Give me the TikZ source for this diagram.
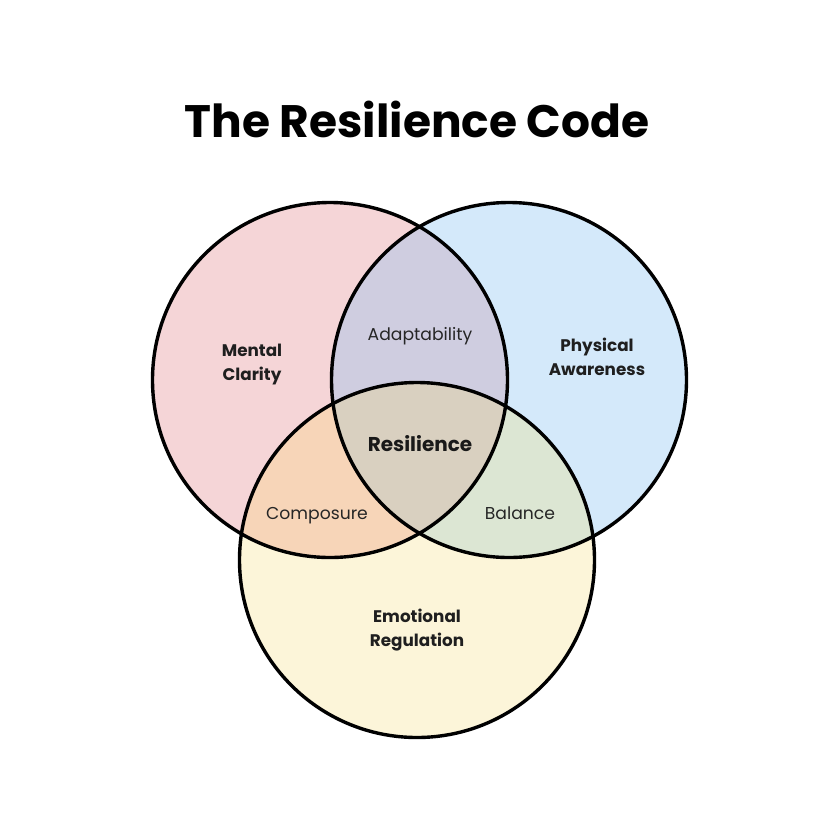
\documentclass[tikz,border=0pt]{standalone}
\usepackage{fontspec}
\setmainfont{Poppins}
\definecolor{cpink}{HTML}{F5D5D7}
\definecolor{cblue}{HTML}{D4E9FA}
\definecolor{cyellow}{HTML}{FCF5D9}
\definecolor{clav}{HTML}{CFCDE0}
\definecolor{cpeach}{HTML}{F7D5B8}
\definecolor{cgreen}{HTML}{DCE6D3}
\definecolor{ccenter}{HTML}{D9D0C0}
\begin{document}
\begin{tikzpicture}[x=1pt,y=-1pt,
  ring/.style={draw=black,line width=3.4pt},
  maintext/.style={font=\fontsize{16.8}{24}\selectfont\bfseries,align=center,text=black!88},
  subtext/.style={font=\fontsize{17.2}{20}\selectfont,text=black!85,anchor=base},
  centertext/.style={font=\fontsize{20}{24}\selectfont\bfseries,text=black!90,anchor=base},
  titletext/.style={font=\fontsize{45.5}{52}\selectfont\bfseries,text=black}]
\useasboundingbox (0,0) rectangle (839,839);
\fill[white] (0,0) rectangle (839,839);
\def\R{177.5}
\coordinate (c1) at (330,380);
\coordinate (c2) at (509,380);
\coordinate (c3) at (417,560);
% base fills
\fill[cpink] (c1) circle (\R);
\fill[cblue] (c2) circle (\R);
\fill[cyellow] (c3) circle (\R);
% pairwise overlaps
\begin{scope}
  \clip (c1) circle (\R);
  \fill[clav] (c2) circle (\R);
  \fill[cpeach] (c3) circle (\R);
\end{scope}
\begin{scope}
  \clip (c2) circle (\R);
  \fill[cgreen] (c3) circle (\R);
\end{scope}
\begin{scope}
  \clip (c1) circle (\R);
  \clip (c2) circle (\R);
  \fill[ccenter] (c3) circle (\R);
\end{scope}
% outlines
\draw[ring] (c1) circle (\R);
\draw[ring] (c2) circle (\R);
\draw[ring] (c3) circle (\R);
% texts
\node[titletext] (title) at (417,119) {The Resilience Code};
\node[maintext] (mental) at (252,365) {Mental\\Clarity};
\node[maintext] (physical) at (597,357) {Physical\\Awareness};
\node[maintext] (emotional) at (417,630) {Emotional\\Regulation};
\node[subtext] (adapt) at (420,340) {Adaptability};
\node[centertext] (resil) at (420,451) {Resilience};
\node[subtext] (compo) at (317,519) {Composure};
\node[subtext] (bal) at (520,519) {Balance};
\end{tikzpicture}
\end{document}
